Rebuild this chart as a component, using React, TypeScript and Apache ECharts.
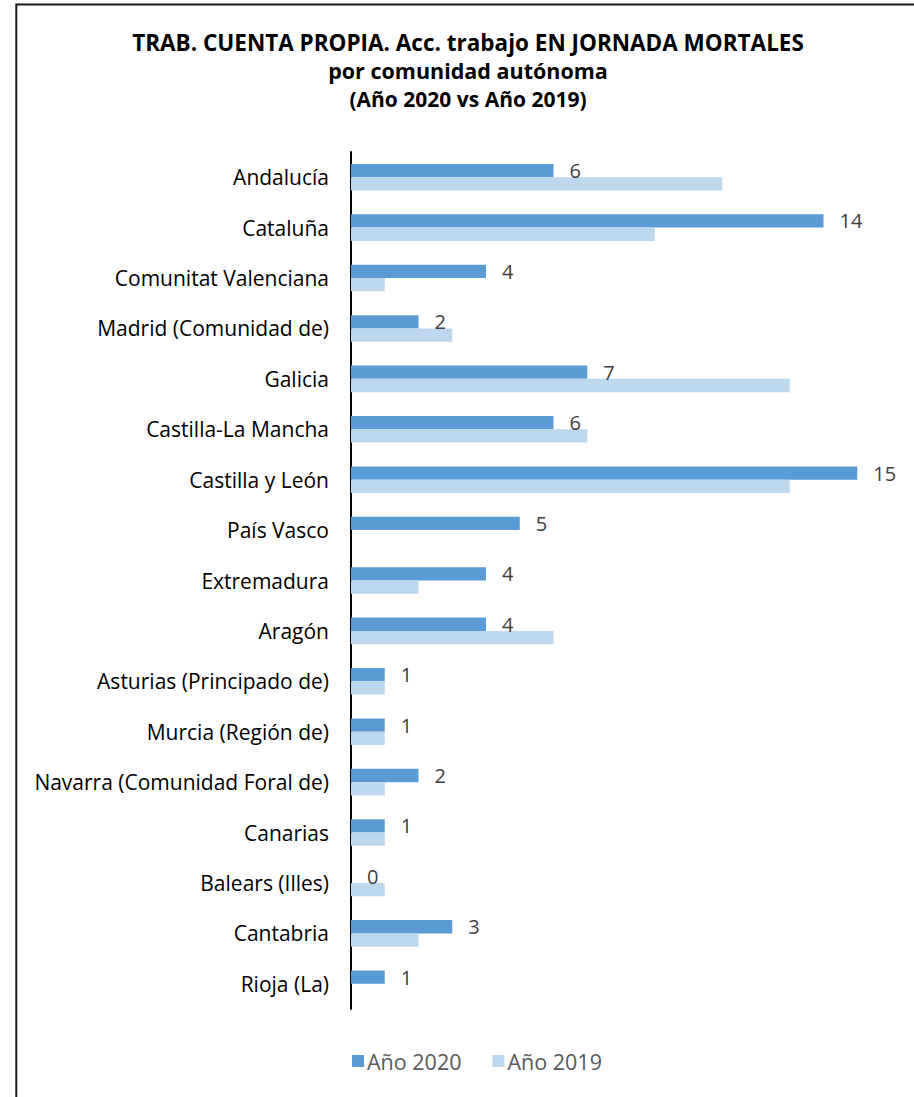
import React, { useEffect, useRef } from "react";
import * as echarts from "echarts";

const titleLines = [
  "TRAB. CUENTA PROPIA. Acc. trabajo EN JORNADA MORTALES",
  "por comunidad autónoma",
  "(Año 2020 vs Año 2019)",
];
const categories = [
  "Andalucía",
  "Cataluña",
  "Comunitat Valenciana",
  "Madrid (Comunidad de)",
  "Galicia",
  "Castilla-La Mancha",
  "Castilla y León",
  "País Vasco",
  "Extremadura",
  "Aragón",
  "Asturias (Principado de)",
  "Murcia (Región de)",
  "Navarra (Comunidad Foral de)",
  "Canarias",
  "Balears (Illes)",
  "Cantabria",
  "Rioja (La)",
];
const seriesNames = ["Año 2020", "Año 2019"];
const values2020 = [6, 14, 4, 2, 7, 6, 15, 5, 4, 4, 1, 1, 2, 1, 0, 3, 1];
const values2019 = [11, 9, 1, 3, 13, 7, 13, 0, 2, 6, 1, 1, 1, 1, 1, 2, 0];

const FONT = "'Open Sans', 'Noto Sans', sans-serif";

export default function App() {
  const ref = useRef<HTMLDivElement>(null);
  useEffect(() => {
    if (!ref.current) return;
    const chart = echarts.init(ref.current, null, { renderer: "svg" });
    const titleStyle = (size: number) => ({
      fontFamily: FONT,
      fontWeight: "bold",
      fontSize: size,
      lineHeight: 28.5,
      color: "#000000",
    });
    chart.setOption({
      animation: false,
      backgroundColor: "#ffffff",
      textStyle: { fontFamily: FONT },
      title: {
        text: `{a|${titleLines[0]}}\n{b|${titleLines[1]}}\n{c|${titleLines[2]}}`,
        left: 468,
        textAlign: "center",
        top: 28,
        padding: 0,
        textStyle: {
          ...titleStyle(22.5),
          rich: {
            a: titleStyle(22.5),
            b: titleStyle(21.5),
            c: titleStyle(21),
          },
        },
      },
      graphic: [
        {
          type: "rect",
          shape: { x: 16.3, y: 4.5, width: 903, height: 1200 },
          style: { fill: "none", stroke: "#1a1a1a", lineWidth: 2 },
          silent: true,
        },
      ],
      legend: {
        left: 352,
        top: 1049,
        padding: 0,
        itemWidth: 12,
        itemHeight: 12,
        itemGap: 31,
        icon: "rect",
        data: seriesNames,
        textStyle: {
          fontFamily: FONT,
          fontSize: 21.5,
          color: "#595959",
          lineHeight: 24,
          padding: [0, 0, 0, -2],
        },
      },
      grid: { left: 351, right: 23, top: 152, bottom: 88, containLabel: false },
      xAxis: {
        type: "value",
        min: 0,
        max: 16,
        show: false,
      },
      yAxis: {
        type: "category",
        inverse: true,
        data: categories,
        axisLine: { show: true, lineStyle: { color: "#000000", width: 2 } },
        axisTick: { show: false },
        axisLabel: { fontFamily: FONT, fontSize: 21, color: "#000000", margin: 22 },
      },
      series: [
        {
          name: seriesNames[0],
          type: "bar",
          data: values2020,
          barWidth: 13.3,
          barGap: "0%",
          itemStyle: { color: "#5B9BD5" },
          label: {
            show: true,
            position: "right",
            distance: 16,
            fontFamily: FONT,
            fontSize: 20,
            color: "#404040",
          },
        },
        {
          name: seriesNames[1],
          type: "bar",
          data: values2019,
          barWidth: 13.3,
          barGap: "0%",
          itemStyle: { color: "#BDD7EE" },
        },
      ],
    });
    return () => chart.dispose();
  }, []);
  return (
    <div
      ref={ref}
      style={{ position: "absolute", left: 0, top: 0, width: 914, height: 1097 }}
    />
  );
}
